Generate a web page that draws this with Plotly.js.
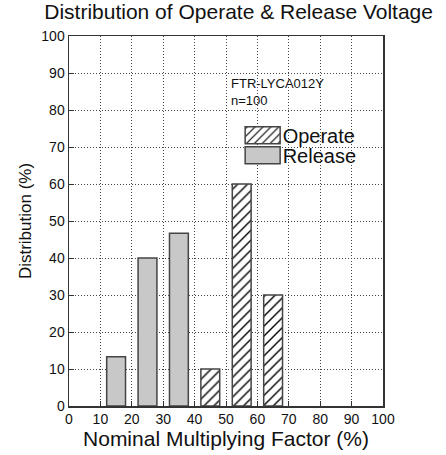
<!DOCTYPE html>
<html><head><meta charset="utf-8">
<script src="https://cdn.plot.ly/plotly-3.0.1.min.js"></script>
<style>html,body{margin:0;padding:0;background:#fff}#chart{width:446px;height:455px}</style>
</head><body><div id="chart"></div>
<script>
const releaseX = [15, 25, 35];
const releaseY = [13.3, 40, 46.7];
const operateX = [45, 55, 65];
const operateY = [10, 60, 30];
const xTicks = [0,10,20,30,40,50,60,70,80,90,100];
const yTicks = [0,10,20,30,40,50,60,70,80,90,100];

const font = 'Liberation Sans, Arial, sans-serif';
const traces = [
  {type:'bar', name:'Operate', legend:'legend', x:operateX, y:operateY, width:6,
   marker:{color:'#ffffff', line:{color:'#444', width:1.5},
           pattern:{shape:'/', fgcolor:'#000', bgcolor:'#ffffff', size:7, solidity:0.2}}},
  {type:'bar', name:'Release', legend:'legend2', x:releaseX, y:releaseY, width:6,
   marker:{color:'#c8c8c8', line:{color:'#444', width:1.5}}}
];
const legendCommon = {xanchor:'left', yanchor:'middle', bgcolor:'rgba(0,0,0,0)', font:{size:20, family:font, color:'#111'}, itemwidth:30};
const gridAxis = {range:[0,100], showgrid:true, gridcolor:'#444', griddash:'1px,2px', gridwidth:1,
  ticks:'inside', ticklen:5, tickcolor:'#333', showline:true, linecolor:'#333', linewidth:1.5, mirror:true, zeroline:false};
const layout = {
  width:446, height:455,
  margin:{l:69, r:63, t:36, b:49},
  paper_bgcolor:'#fff', plot_bgcolor:'#fff',
  font:{family:font, color:'#111'},
  showlegend:true,
  legend:Object.assign({x:0.553, y:0.732}, legendCommon),
  legend2:Object.assign({x:0.553, y:0.678}, legendCommon),
  title:{text:'Distribution of Operate & Release Voltage', font:{size:21, family:font}, x:0.535, xanchor:'center', y:0.99, yanchor:'top'},
  xaxis:Object.assign({}, gridAxis, {tickvals:xTicks, ticktext:xTicks.map(String), tickfont:{size:14, family:font},
         title:{text:'Nominal Multiplying Factor (%)', font:{size:21, family:font}, standoff:4}}),
  yaxis:Object.assign({}, gridAxis, {tickvals:yTicks, ticktext:yTicks.map(String), tickfont:{size:14, family:font},
         title:{text:'Distribution (%)', font:{size:17, family:font}, standoff:5}}),
  annotations:[
    {xref:'x', yref:'y', x:51, y:84.8, text:'FTR-LYCA012Y<br>n=100', showarrow:false, xanchor:'left', yanchor:'middle', align:'left', font:{size:13, family:font}}
  ],
  bargap:0
};
Plotly.newPlot('chart', traces, layout, {displayModeBar:false, staticPlot:true}).then(function(gd){
  gd.querySelectorAll('.legendpoints path').forEach(function(p){
    p.setAttribute('d', 'M17.5,8.5H-17.5V-8.5H17.5Z');
  });
});
</script></body></html>
